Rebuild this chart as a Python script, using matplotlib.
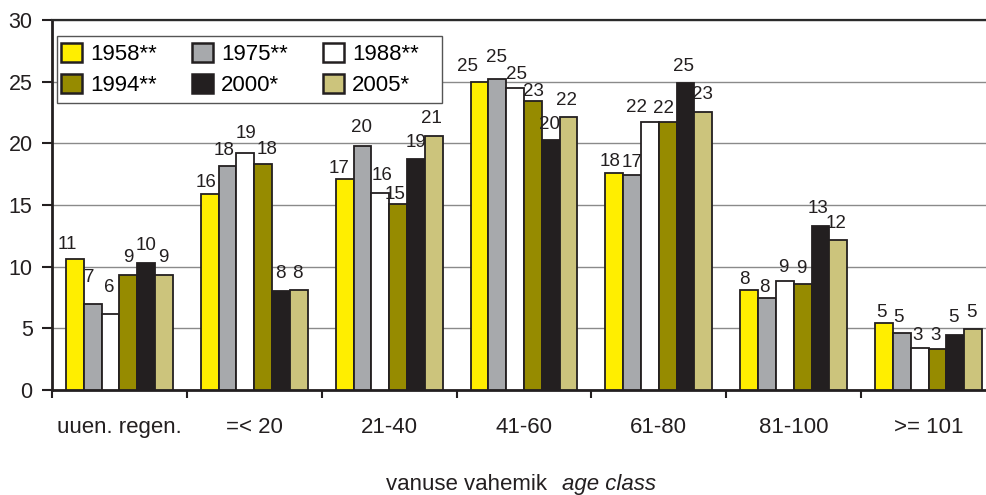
import matplotlib
matplotlib.use("Agg")
import matplotlib.pyplot as plt
from matplotlib.patches import Rectangle
import numpy as np

plt.rcParams['font.family'] = ['Liberation Sans', 'DejaVu Sans']

categories = ["uuen. regen.", "=< 20", "21-40", "41-60", "61-80", "81-100", ">= 101"]
series_names = ["1958**", "1975**", "1988**", "1994**", "2000*", "2005*"]
s1958 = [10.6, 15.9, 17.1, 25.0, 17.6, 8.1, 5.4]
s1975 = [7.0, 18.2, 19.8, 25.2, 17.4, 7.5, 4.65]
s1988 = [6.2, 19.2, 16.0, 24.5, 21.7, 8.8, 3.4]
s1994 = [9.3, 18.3, 15.1, 23.4, 21.7, 8.6, 3.3]
s2000 = [10.3, 8.0, 18.7, 20.3, 24.9, 13.3, 4.5]
s2005 = [9.3, 8.1, 20.6, 22.1, 22.5, 12.2, 4.95]
yticks = [0, 5, 10, 15, 20, 25, 30]

series = [s1958, s1975, s1988, s1994, s2000, s2005]
colors = ["#FFEE00", "#A7A9AC", "#FFFFFF", "#968B00", "#231F20", "#CCC47C"]
edge = "#231F20"

# label placement tweaks (pixels): horizontal shift and baseline gap above bar top
label_dx = [
    [-8, -4, -6, -12, -4, -5, -3],
    [-3, -4, -1, -1, 0, -3, -3],
    [-1, 1, 2, 1, -13, -2, -2],
    [0, 4, -3, 1, -4, -1, -2],
    [0, -1, 0, -1, -2, -2, -2],
    [-1, -1, -2, -2, -1, -2, -2],
]
label_gap = [
    [10, 7, 6, 11, 7, 6, 6],
    [22, 11, 14, 17, 8, 6, 11],
    [22, 15, 13, 9, 10, 9, 8],
    [13, 10, 5, 5, 9, 11, 9],
    [13, 13, 12, 11, 12, 13, 12],
    [13, 12, 13, 12, 13, 12, 12],
]

W, H = 986, 495
PX = 72.0 / 100.0
fig = plt.figure(figsize=(W / 100, H / 100), dpi=100)
left, right, top, bottom = 52, 996, 20, 390
ax = fig.add_axes([left / W, (H - bottom) / H, (right - left) / W, (bottom - top) / H])

n = len(series)
bw = 0.132
x = np.arange(len(categories))
handles = []
for i, (vals, c, name) in enumerate(zip(series, colors, series_names)):
    xs = x + (i - (n - 1) / 2) * bw
    b = ax.bar(xs, vals, width=bw, color=c, edgecolor=edge, linewidth=1.3, label=name, zorder=3)
    handles.append(b)
    for j, (xi, v) in enumerate(zip(xs, vals)):
        ax.annotate(str(int(v + 0.5)), (xi, v),
                    xytext=(label_dx[i][j] * PX, label_gap[i][j] * PX), textcoords="offset points",
                    ha="center", va="baseline", fontsize=13.5, color="#231F20", zorder=4)

ax.set_xlim(-0.5, len(categories) - 0.5)
ax.set_ylim(0, 30)
ax.set_yticks(yticks)
ax.set_yticklabels([str(t) for t in yticks], fontsize=15.5, color="#231F20")
ax.yaxis.grid(True, color="#8a8a8a", linewidth=1.0, zorder=0)
ax.set_axisbelow(True)

ax.set_xticks(np.arange(len(categories) + 1) - 0.5)
ax.set_xticklabels([])
ax.set_xticks(x, minor=True)
ax.set_xticklabels(categories, minor=True, fontsize=16, color="#231F20")
ax.tick_params(axis="x", which="major", length=6, width=1.5, direction="out", color=edge)
ax.tick_params(axis="x", which="minor", length=0, pad=19.5)
ax.tick_params(axis="y", length=7, width=1.5, direction="out", color=edge, pad=7)

for s in ["left", "bottom"]:
    ax.spines[s].set_linewidth(2.0)
    ax.spines[s].set_color(edge)
ax.spines["top"].set_linewidth(1.6)
ax.spines["top"].set_color("#2a2a2a")
ax.spines["right"].set_visible(False)

# legend frame
ax.add_patch(Rectangle(((57 - left) / (right - left), (bottom - 103) / (bottom - top)),
                       (442 - 57) / (right - left), (103 - 36) / (bottom - top),
                       transform=ax.transAxes, facecolor="white", edgecolor="#555555",
                       linewidth=1.0, zorder=5))
# row-wise ordering for a 3-column legend
order = [0, 3, 1, 4, 2, 5]
leg = ax.legend([handles[k] for k in order], [series_names[k] for k in order],
                ncols=3, loc="upper left",
                bbox_to_anchor=((61 - left) / (right - left), (bottom - 43) / (bottom - top)),
                fontsize=16, frameon=False,
                handlelength=0.95, handleheight=0.95, handletextpad=0.38, columnspacing=1.55,
                labelspacing=0.38, borderpad=0.0, borderaxespad=0)
leg.set_zorder(6)
for h in leg.legend_handles:
    h.set_linewidth(1.8)

fig.text(547 / W, 1 - 490 / H, "vanuse vahemik", ha="right", va="baseline", fontsize=16, color="#231F20")
fig.text(562 / W, 1 - 490 / H, "age class", ha="left", va="baseline", fontsize=16, style="italic", color="#231F20")

fig.savefig("out.png", dpi=100)
